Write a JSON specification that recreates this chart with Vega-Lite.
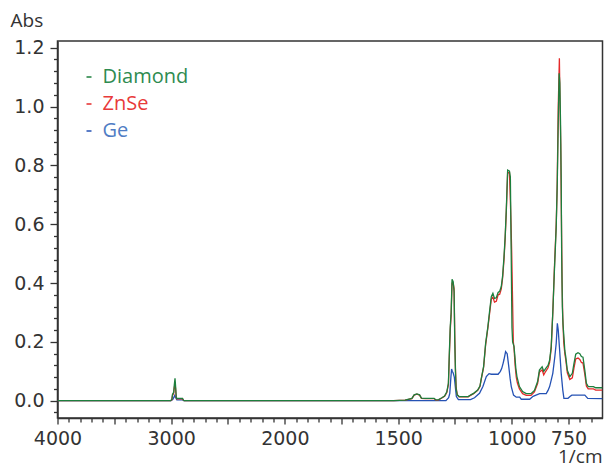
{
  "$schema": "https://vega.github.io/schema/vega-lite/v6.json",
  "width": 545,
  "height": 377,
  "autosize": "none",
  "padding": {"left": 57.5, "top": 41, "right": 1.5, "bottom": 50},
  "background": "white",
  "config": {
    "view": {"stroke": "#333333", "strokeWidth": 1.5},
    "font": "Open Sans"
  },
  "datasets": {
    "spectra": [
      {"series":"Diamond","wavenumber":4000,"abs":0},
      {"series":"Diamond","wavenumber":3005,"abs":0},
      {"series":"Diamond","wavenumber":2994,"abs":0.004},
      {"series":"Diamond","wavenumber":2988,"abs":0.022},
      {"series":"Diamond","wavenumber":2978,"abs":0.028},
      {"series":"Diamond","wavenumber":2972,"abs":0.055},
      {"series":"Diamond","wavenumber":2966,"abs":0.076},
      {"series":"Diamond","wavenumber":2961,"abs":0.05},
      {"series":"Diamond","wavenumber":2955,"abs":0.012},
      {"series":"Diamond","wavenumber":2950,"abs":0.008},
      {"series":"Diamond","wavenumber":2900,"abs":0.008},
      {"series":"Diamond","wavenumber":2893,"abs":0.002},
      {"series":"Diamond","wavenumber":2885,"abs":0},
      {"series":"Diamond","wavenumber":1520,"abs":0},
      {"series":"Diamond","wavenumber":1470,"abs":0.002},
      {"series":"Diamond","wavenumber":1440,"abs":0.008},
      {"series":"Diamond","wavenumber":1430,"abs":0.02},
      {"series":"Diamond","wavenumber":1418,"abs":0.023},
      {"series":"Diamond","wavenumber":1406,"abs":0.02},
      {"series":"Diamond","wavenumber":1398,"abs":0.009},
      {"series":"Diamond","wavenumber":1380,"abs":0.008},
      {"series":"Diamond","wavenumber":1342,"abs":0.008},
      {"series":"Diamond","wavenumber":1335,"abs":0.003},
      {"series":"Diamond","wavenumber":1322,"abs":0.004},
      {"series":"Diamond","wavenumber":1308,"abs":0.01},
      {"series":"Diamond","wavenumber":1296,"abs":0.016},
      {"series":"Diamond","wavenumber":1286,"abs":0.03},
      {"series":"Diamond","wavenumber":1279,"abs":0.06},
      {"series":"Diamond","wavenumber":1275,"abs":0.16},
      {"series":"Diamond","wavenumber":1271,"abs":0.25},
      {"series":"Diamond","wavenumber":1267,"abs":0.3},
      {"series":"Diamond","wavenumber":1263,"abs":0.413},
      {"series":"Diamond","wavenumber":1258,"abs":0.405},
      {"series":"Diamond","wavenumber":1254,"abs":0.37},
      {"series":"Diamond","wavenumber":1251,"abs":0.2},
      {"series":"Diamond","wavenumber":1248,"abs":0.1},
      {"series":"Diamond","wavenumber":1245,"abs":0.04},
      {"series":"Diamond","wavenumber":1240,"abs":0.02},
      {"series":"Diamond","wavenumber":1232,"abs":0.014},
      {"series":"Diamond","wavenumber":1192,"abs":0.014},
      {"series":"Diamond","wavenumber":1180,"abs":0.02},
      {"series":"Diamond","wavenumber":1168,"abs":0.025},
      {"series":"Diamond","wavenumber":1150,"abs":0.036},
      {"series":"Diamond","wavenumber":1140,"abs":0.05},
      {"series":"Diamond","wavenumber":1134,"abs":0.076},
      {"series":"Diamond","wavenumber":1124,"abs":0.116},
      {"series":"Diamond","wavenumber":1115,"abs":0.195},
      {"series":"Diamond","wavenumber":1105,"abs":0.252},
      {"series":"Diamond","wavenumber":1097,"abs":0.308},
      {"series":"Diamond","wavenumber":1090,"abs":0.354},
      {"series":"Diamond","wavenumber":1083,"abs":0.365},
      {"series":"Diamond","wavenumber":1076,"abs":0.348},
      {"series":"Diamond","wavenumber":1068,"abs":0.35},
      {"series":"Diamond","wavenumber":1060,"abs":0.368},
      {"series":"Diamond","wavenumber":1053,"abs":0.372},
      {"series":"Diamond","wavenumber":1046,"abs":0.388},
      {"series":"Diamond","wavenumber":1040,"abs":0.425},
      {"series":"Diamond","wavenumber":1034,"abs":0.49},
      {"series":"Diamond","wavenumber":1029,"abs":0.557},
      {"series":"Diamond","wavenumber":1024,"abs":0.648},
      {"series":"Diamond","wavenumber":1018,"abs":0.784},
      {"series":"Diamond","wavenumber":1010,"abs":0.78},
      {"series":"Diamond","wavenumber":1006,"abs":0.76},
      {"series":"Diamond","wavenumber":1003,"abs":0.55},
      {"series":"Diamond","wavenumber":999,"abs":0.25},
      {"series":"Diamond","wavenumber":996,"abs":0.2},
      {"series":"Diamond","wavenumber":990,"abs":0.185},
      {"series":"Diamond","wavenumber":986,"abs":0.15},
      {"series":"Diamond","wavenumber":982,"abs":0.11},
      {"series":"Diamond","wavenumber":977,"abs":0.082},
      {"series":"Diamond","wavenumber":966,"abs":0.048},
      {"series":"Diamond","wavenumber":952,"abs":0.031},
      {"series":"Diamond","wavenumber":936,"abs":0.024},
      {"series":"Diamond","wavenumber":915,"abs":0.024},
      {"series":"Diamond","wavenumber":900,"abs":0.035},
      {"series":"Diamond","wavenumber":886,"abs":0.065},
      {"series":"Diamond","wavenumber":878,"abs":0.104},
      {"series":"Diamond","wavenumber":866,"abs":0.115},
      {"series":"Diamond","wavenumber":859,"abs":0.1},
      {"series":"Diamond","wavenumber":850,"abs":0.11},
      {"series":"Diamond","wavenumber":840,"abs":0.12},
      {"series":"Diamond","wavenumber":833,"abs":0.138},
      {"series":"Diamond","wavenumber":826,"abs":0.184},
      {"series":"Diamond","wavenumber":819,"abs":0.3},
      {"series":"Diamond","wavenumber":812,"abs":0.44},
      {"series":"Diamond","wavenumber":804,"abs":0.59},
      {"series":"Diamond","wavenumber":799,"abs":0.75},
      {"series":"Diamond","wavenumber":795,"abs":0.95},
      {"series":"Diamond","wavenumber":791,"abs":1.113},
      {"series":"Diamond","wavenumber":788,"abs":1.08},
      {"series":"Diamond","wavenumber":785,"abs":0.95},
      {"series":"Diamond","wavenumber":782,"abs":0.75},
      {"series":"Diamond","wavenumber":780,"abs":0.5},
      {"series":"Diamond","wavenumber":777,"abs":0.32},
      {"series":"Diamond","wavenumber":774,"abs":0.26},
      {"series":"Diamond","wavenumber":769,"abs":0.206},
      {"series":"Diamond","wavenumber":766,"abs":0.17},
      {"series":"Diamond","wavenumber":762,"abs":0.15},
      {"series":"Diamond","wavenumber":755,"abs":0.104},
      {"series":"Diamond","wavenumber":744,"abs":0.082},
      {"series":"Diamond","wavenumber":733,"abs":0.093},
      {"series":"Diamond","wavenumber":726,"abs":0.125},
      {"series":"Diamond","wavenumber":718,"abs":0.158},
      {"series":"Diamond","wavenumber":708,"abs":0.163},
      {"series":"Diamond","wavenumber":700,"abs":0.16},
      {"series":"Diamond","wavenumber":693,"abs":0.15},
      {"series":"Diamond","wavenumber":686,"abs":0.148},
      {"series":"Diamond","wavenumber":678,"abs":0.104},
      {"series":"Diamond","wavenumber":671,"abs":0.059},
      {"series":"Diamond","wavenumber":663,"abs":0.048},
      {"series":"Diamond","wavenumber":640,"abs":0.048},
      {"series":"Diamond","wavenumber":630,"abs":0.044},
      {"series":"Diamond","wavenumber":600,"abs":0.044},

      {"series":"ZnSe","wavenumber":4000,"abs":0},
      {"series":"ZnSe","wavenumber":3005,"abs":0},
      {"series":"ZnSe","wavenumber":2994,"abs":0.003},
      {"series":"ZnSe","wavenumber":2988,"abs":0.018},
      {"series":"ZnSe","wavenumber":2978,"abs":0.024},
      {"series":"ZnSe","wavenumber":2972,"abs":0.045},
      {"series":"ZnSe","wavenumber":2966,"abs":0.06},
      {"series":"ZnSe","wavenumber":2961,"abs":0.04},
      {"series":"ZnSe","wavenumber":2955,"abs":0.01},
      {"series":"ZnSe","wavenumber":2950,"abs":0.006},
      {"series":"ZnSe","wavenumber":2900,"abs":0.006},
      {"series":"ZnSe","wavenumber":2893,"abs":0.002},
      {"series":"ZnSe","wavenumber":2885,"abs":0},
      {"series":"ZnSe","wavenumber":1520,"abs":0},
      {"series":"ZnSe","wavenumber":1470,"abs":0.002},
      {"series":"ZnSe","wavenumber":1440,"abs":0.007},
      {"series":"ZnSe","wavenumber":1430,"abs":0.019},
      {"series":"ZnSe","wavenumber":1418,"abs":0.022},
      {"series":"ZnSe","wavenumber":1406,"abs":0.019},
      {"series":"ZnSe","wavenumber":1398,"abs":0.008},
      {"series":"ZnSe","wavenumber":1380,"abs":0.007},
      {"series":"ZnSe","wavenumber":1342,"abs":0.007},
      {"series":"ZnSe","wavenumber":1335,"abs":0.002},
      {"series":"ZnSe","wavenumber":1322,"abs":0.003},
      {"series":"ZnSe","wavenumber":1308,"abs":0.009},
      {"series":"ZnSe","wavenumber":1296,"abs":0.015},
      {"series":"ZnSe","wavenumber":1286,"abs":0.028},
      {"series":"ZnSe","wavenumber":1279,"abs":0.055},
      {"series":"ZnSe","wavenumber":1275,"abs":0.15},
      {"series":"ZnSe","wavenumber":1271,"abs":0.24},
      {"series":"ZnSe","wavenumber":1267,"abs":0.29},
      {"series":"ZnSe","wavenumber":1263,"abs":0.4},
      {"series":"ZnSe","wavenumber":1258,"abs":0.4},
      {"series":"ZnSe","wavenumber":1254,"abs":0.38},
      {"series":"ZnSe","wavenumber":1251,"abs":0.22},
      {"series":"ZnSe","wavenumber":1248,"abs":0.11},
      {"series":"ZnSe","wavenumber":1245,"abs":0.045},
      {"series":"ZnSe","wavenumber":1240,"abs":0.02},
      {"series":"ZnSe","wavenumber":1232,"abs":0.013},
      {"series":"ZnSe","wavenumber":1192,"abs":0.013},
      {"series":"ZnSe","wavenumber":1180,"abs":0.019},
      {"series":"ZnSe","wavenumber":1168,"abs":0.024},
      {"series":"ZnSe","wavenumber":1150,"abs":0.035},
      {"series":"ZnSe","wavenumber":1140,"abs":0.048},
      {"series":"ZnSe","wavenumber":1134,"abs":0.074},
      {"series":"ZnSe","wavenumber":1124,"abs":0.113},
      {"series":"ZnSe","wavenumber":1115,"abs":0.19},
      {"series":"ZnSe","wavenumber":1105,"abs":0.248},
      {"series":"ZnSe","wavenumber":1097,"abs":0.3},
      {"series":"ZnSe","wavenumber":1090,"abs":0.345},
      {"series":"ZnSe","wavenumber":1083,"abs":0.352},
      {"series":"ZnSe","wavenumber":1076,"abs":0.335},
      {"series":"ZnSe","wavenumber":1068,"abs":0.338},
      {"series":"ZnSe","wavenumber":1060,"abs":0.36},
      {"series":"ZnSe","wavenumber":1053,"abs":0.362},
      {"series":"ZnSe","wavenumber":1046,"abs":0.38},
      {"series":"ZnSe","wavenumber":1040,"abs":0.418},
      {"series":"ZnSe","wavenumber":1034,"abs":0.48},
      {"series":"ZnSe","wavenumber":1029,"abs":0.55},
      {"series":"ZnSe","wavenumber":1024,"abs":0.64},
      {"series":"ZnSe","wavenumber":1018,"abs":0.775},
      {"series":"ZnSe","wavenumber":1010,"abs":0.775},
      {"series":"ZnSe","wavenumber":1006,"abs":0.68},
      {"series":"ZnSe","wavenumber":1003,"abs":0.6},
      {"series":"ZnSe","wavenumber":1000,"abs":0.5},
      {"series":"ZnSe","wavenumber":997,"abs":0.37},
      {"series":"ZnSe","wavenumber":993,"abs":0.2},
      {"series":"ZnSe","wavenumber":990,"abs":0.18},
      {"series":"ZnSe","wavenumber":985,"abs":0.12},
      {"series":"ZnSe","wavenumber":980,"abs":0.08},
      {"series":"ZnSe","wavenumber":975,"abs":0.06},
      {"series":"ZnSe","wavenumber":966,"abs":0.04},
      {"series":"ZnSe","wavenumber":952,"abs":0.024},
      {"series":"ZnSe","wavenumber":936,"abs":0.018},
      {"series":"ZnSe","wavenumber":915,"abs":0.018},
      {"series":"ZnSe","wavenumber":900,"abs":0.03},
      {"series":"ZnSe","wavenumber":886,"abs":0.058},
      {"series":"ZnSe","wavenumber":878,"abs":0.097},
      {"series":"ZnSe","wavenumber":866,"abs":0.105},
      {"series":"ZnSe","wavenumber":859,"abs":0.088},
      {"series":"ZnSe","wavenumber":850,"abs":0.1},
      {"series":"ZnSe","wavenumber":840,"abs":0.112},
      {"series":"ZnSe","wavenumber":833,"abs":0.13},
      {"series":"ZnSe","wavenumber":826,"abs":0.178},
      {"series":"ZnSe","wavenumber":819,"abs":0.3},
      {"series":"ZnSe","wavenumber":812,"abs":0.45},
      {"series":"ZnSe","wavenumber":804,"abs":0.6},
      {"series":"ZnSe","wavenumber":800,"abs":0.72},
      {"series":"ZnSe","wavenumber":795,"abs":1.0},
      {"series":"ZnSe","wavenumber":790,"abs":1.164},
      {"series":"ZnSe","wavenumber":787,"abs":1.0},
      {"series":"ZnSe","wavenumber":784,"abs":0.87},
      {"series":"ZnSe","wavenumber":781,"abs":0.62},
      {"series":"ZnSe","wavenumber":778,"abs":0.4},
      {"series":"ZnSe","wavenumber":775,"abs":0.28},
      {"series":"ZnSe","wavenumber":771,"abs":0.2},
      {"series":"ZnSe","wavenumber":766,"abs":0.16},
      {"series":"ZnSe","wavenumber":762,"abs":0.14},
      {"series":"ZnSe","wavenumber":755,"abs":0.095},
      {"series":"ZnSe","wavenumber":744,"abs":0.072},
      {"series":"ZnSe","wavenumber":733,"abs":0.078},
      {"series":"ZnSe","wavenumber":726,"abs":0.11},
      {"series":"ZnSe","wavenumber":718,"abs":0.142},
      {"series":"ZnSe","wavenumber":708,"abs":0.145},
      {"series":"ZnSe","wavenumber":700,"abs":0.14},
      {"series":"ZnSe","wavenumber":693,"abs":0.13},
      {"series":"ZnSe","wavenumber":686,"abs":0.128},
      {"series":"ZnSe","wavenumber":678,"abs":0.09},
      {"series":"ZnSe","wavenumber":671,"abs":0.05},
      {"series":"ZnSe","wavenumber":663,"abs":0.04},
      {"series":"ZnSe","wavenumber":640,"abs":0.04},
      {"series":"ZnSe","wavenumber":630,"abs":0.036},
      {"series":"ZnSe","wavenumber":600,"abs":0.036},

      {"series":"Ge","wavenumber":4000,"abs":0},
      {"series":"Ge","wavenumber":3000,"abs":0},
      {"series":"Ge","wavenumber":2985,"abs":0.005},
      {"series":"Ge","wavenumber":2968,"abs":0.018},
      {"series":"Ge","wavenumber":2960,"abs":0.01},
      {"series":"Ge","wavenumber":2950,"abs":0.003},
      {"series":"Ge","wavenumber":2900,"abs":0.003},
      {"series":"Ge","wavenumber":2890,"abs":0},
      {"series":"Ge","wavenumber":1290,"abs":0},
      {"series":"Ge","wavenumber":1278,"abs":0.01},
      {"series":"Ge","wavenumber":1273,"abs":0.025},
      {"series":"Ge","wavenumber":1268,"abs":0.08},
      {"series":"Ge","wavenumber":1265,"abs":0.108},
      {"series":"Ge","wavenumber":1262,"abs":0.1},
      {"series":"Ge","wavenumber":1258,"abs":0.094},
      {"series":"Ge","wavenumber":1253,"abs":0.08},
      {"series":"Ge","wavenumber":1249,"abs":0.05},
      {"series":"Ge","wavenumber":1244,"abs":0.014},
      {"series":"Ge","wavenumber":1235,"abs":0.004},
      {"series":"Ge","wavenumber":1182,"abs":0.004},
      {"series":"Ge","wavenumber":1164,"abs":0.01},
      {"series":"Ge","wavenumber":1142,"abs":0.025},
      {"series":"Ge","wavenumber":1127,"abs":0.048},
      {"series":"Ge","wavenumber":1112,"abs":0.082},
      {"series":"Ge","wavenumber":1100,"abs":0.092},
      {"series":"Ge","wavenumber":1090,"abs":0.09},
      {"series":"Ge","wavenumber":1060,"abs":0.09},
      {"series":"Ge","wavenumber":1050,"abs":0.1},
      {"series":"Ge","wavenumber":1044,"abs":0.11},
      {"series":"Ge","wavenumber":1038,"abs":0.127},
      {"series":"Ge","wavenumber":1034,"abs":0.14},
      {"series":"Ge","wavenumber":1027,"abs":0.167},
      {"series":"Ge","wavenumber":1020,"abs":0.16},
      {"series":"Ge","wavenumber":1013,"abs":0.116},
      {"series":"Ge","wavenumber":1007,"abs":0.075},
      {"series":"Ge","wavenumber":1002,"abs":0.048},
      {"series":"Ge","wavenumber":992,"abs":0.019},
      {"series":"Ge","wavenumber":980,"abs":0.012},
      {"series":"Ge","wavenumber":965,"abs":0.012},
      {"series":"Ge","wavenumber":958,"abs":0.005},
      {"series":"Ge","wavenumber":921,"abs":0.005},
      {"series":"Ge","wavenumber":906,"abs":0.015},
      {"series":"Ge","wavenumber":893,"abs":0.019},
      {"series":"Ge","wavenumber":877,"abs":0.024},
      {"series":"Ge","wavenumber":848,"abs":0.024},
      {"series":"Ge","wavenumber":840,"abs":0.035},
      {"series":"Ge","wavenumber":833,"abs":0.048},
      {"series":"Ge","wavenumber":826,"abs":0.07},
      {"series":"Ge","wavenumber":819,"abs":0.093},
      {"series":"Ge","wavenumber":810,"abs":0.15},
      {"series":"Ge","wavenumber":804,"abs":0.195},
      {"series":"Ge","wavenumber":799,"abs":0.263},
      {"series":"Ge","wavenumber":795,"abs":0.24},
      {"series":"Ge","wavenumber":790,"abs":0.184},
      {"series":"Ge","wavenumber":782,"abs":0.093},
      {"series":"Ge","wavenumber":775,"abs":0.036},
      {"series":"Ge","wavenumber":770,"abs":0.008},
      {"series":"Ge","wavenumber":752,"abs":0.008},
      {"series":"Ge","wavenumber":742,"abs":0.015},
      {"series":"Ge","wavenumber":735,"abs":0.019},
      {"series":"Ge","wavenumber":678,"abs":0.019},
      {"series":"Ge","wavenumber":665,"abs":0.008},
      {"series":"Ge","wavenumber":600,"abs":0.007}
    ]
  },
  "data": {"name": "spectra"},
  "encoding": {
    "x": {
      "field": "wavenumber",
      "type": "quantitative",
      "scale": {"domain": [4000, 2000, 600], "range": [0, 227.3, 545], "nice": false, "zero": false},
      "axis": {
        "values": [4000,3900,3800,3700,3600,3500,3400,3300,3200,3100,3000,2900,2800,2700,2600,2500,2400,2300,2200,2100,2000,1950,1900,1850,1800,1750,1700,1650,1600,1550,1500,1450,1400,1350,1300,1250,1200,1150,1100,1050,1000,950,900,850,800,750,700,650],
        "labelExpr": "indexof([4000,3000,2000,1500,1000,750], datum.value) >= 0 ? datum.label : ''",
        "format": "d",
        "tickSize": {"condition": {"test": "indexof([4000,3500,3000,2500,2000,1750,1500,1250,1000,750], datum.value) >= 0", "value": 6}, "value": 4},
        "tickColor": "#333333",
        "tickWidth": 1.3,
        "domainColor": "#333333",
        "domainWidth": 1.5,
        "grid": false,
        "labelFlush": false,
        "labelOverlap": false,
        "labelBound": false,
        "labelFont": "DejaVu Sans",
        "labelFontSize": 19,
        "labelColor": "#333333",
        "labelPadding": 5,
        "title": "1/cm",
        "titleFont": "Open Sans",
        "titleFontSize": 19,
        "titleFontWeight": "normal",
        "titleColor": "#333333",
        "titleAlign": "right",
        "titleAnchor": "end",
        "titleBaseline": "alphabetic",
        "titleX": 544.5,
        "titleY": 44.5
      }
    },
    "y": {
      "field": "abs",
      "type": "quantitative",
      "scale": {"domain": [-0.0588, 1.2228], "nice": false, "zero": false},
      "axis": {
        "values": [-0.04,0,0.04,0.08,0.12,0.16,0.2,0.24,0.28,0.32,0.36,0.4,0.44,0.48,0.52,0.56,0.6,0.64,0.68,0.72,0.76,0.8,0.84,0.88,0.92,0.96,1.0,1.04,1.08,1.12,1.16,1.2],
        "labelExpr": "abs(datum.value*5 - round(datum.value*5)) < 0.001 ? format(datum.value, '.1f') : ''",
        "tickSize": {"condition": {"test": "abs(datum.value*5 - round(datum.value*5)) < 0.001", "value": 7.5}, "value": 4},
        "tickColor": "#333333",
        "tickWidth": 1.3,
        "domainColor": "#333333",
        "domainWidth": 1.5,
        "grid": false,
        "labelOverlap": false,
        "labelBound": false,
        "labelFlush": false,
        "labelFont": "DejaVu Sans",
        "labelFontSize": 19,
        "labelColor": "#333333",
        "labelPadding": 6,
        "title": "Abs",
        "titleFont": "Open Sans",
        "titleFontSize": 19,
        "titleFontWeight": "normal",
        "titleColor": "#333333",
        "titleAngle": 0,
        "titleAlign": "left",
        "titleBaseline": "alphabetic",
        "titleX": -47.5,
        "titleY": -15
      }
    },
    "color": {
      "field": "series",
      "type": "nominal",
      "scale": {"domain": ["Diamond", "ZnSe", "Ge"], "range": ["#1d7f3d", "#e42a2a", "#2552b4"]},
      "legend": {
        "orient": "none",
        "legendX": 21.5,
        "legendY": 26,
        "title": null,
        "padding": 0,
        "symbolType": "M-1,0H1",
        "symbolSize": 25,
        "symbolStrokeWidth": 1.5,
        "labelFont": "Open Sans",
        "labelFontSize": 20,
        "labelOffset": 3.5,
        "rowPadding": 7,
        "encode": {
          "labels": {"update": {"fill": {"signal": "datum.value === 'Diamond' ? '#2e8b50' : datum.value === 'ZnSe' ? '#e83a3a' : '#4f7dc4'"}}},
          "symbols": {"update": {"stroke": {"signal": "datum.value === 'Diamond' ? '#2e8b50' : datum.value === 'ZnSe' ? '#e83a3a' : '#4f7dc4'"}}}
        }
      }
    }
  },
  "layer": [
    {"transform": [{"filter": {"field": "series", "equal": "Ge"}}], "mark": {"type": "line", "strokeWidth": 1.3, "clip": true}},
    {"transform": [{"filter": {"field": "series", "equal": "ZnSe"}}], "mark": {"type": "line", "strokeWidth": 1.3, "clip": true}},
    {"transform": [{"filter": {"field": "series", "equal": "Diamond"}}], "mark": {"type": "line", "strokeWidth": 1.3, "clip": true}}
  ]
}
